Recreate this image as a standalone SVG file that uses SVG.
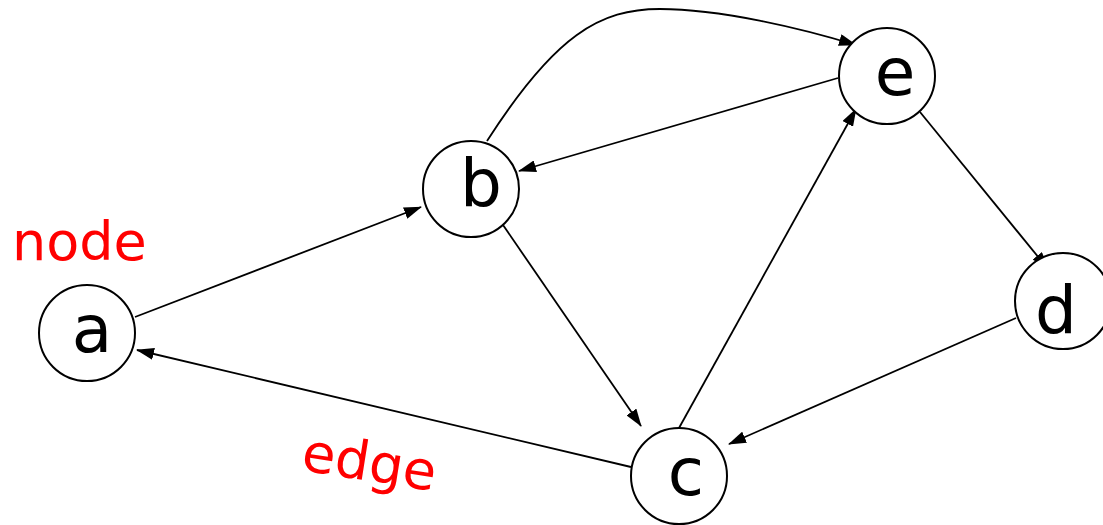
<svg xmlns="http://www.w3.org/2000/svg" width="1103" height="525" viewBox="0 0 1103 525">
<style>
.node{fill:#fff;stroke:#000;stroke-width:2}
.lbl{font-family:"Comic Sans MS","DejaVu Sans",sans-serif;font-size:66px;fill:#000;text-anchor:middle}
.ann{font-family:"Comic Sans MS","DejaVu Sans",sans-serif;font-size:54px;fill:#f00}
.edge{fill:none;stroke:#000;stroke-width:1.8;marker-end:url(#arr)}
</style>
<defs>
<marker id="arr" viewBox="0 0 18 12" refX="17" refY="6" markerWidth="18" markerHeight="12" markerUnits="userSpaceOnUse" orient="auto">
<path d="M0,0 L18,6 L0,12 Z" fill="#000"/>
</marker>
</defs>
<rect width="1103" height="525" fill="#fff"/>
<g id="connectors">
<path class="edge" d="M135,317 L421,207"/>
<path class="edge" d="M503,225 L641,426"/>
<path class="edge" d="M631,467 L137,350"/>
<path class="edge" d="M679,428 L856,109"/>
<path class="edge" d="M838,78 L519,171"/>
<path class="edge" d="M487,141 C555,35 600,9 660,9 C720,9 800,28 856,45"/>
<path class="edge" d="M920,112 L1048,269"/>
<path class="edge" d="M1016,318 L729,444"/>
</g>
<g id="node-a"><circle class="node" cx="87" cy="333" r="48"/><text class="lbl" x="92" y="352">a</text></g>
<g id="node-b"><circle class="node" cx="471" cy="189" r="48"/><text class="lbl" x="481" y="206">b</text></g>
<g id="node-e"><circle class="node" cx="887" cy="76" r="48"/><text class="lbl" x="895" y="95">e</text></g>
<g id="node-d"><circle class="node" cx="1063" cy="301" r="48"/><text class="lbl" x="1056" y="333">d</text></g>
<g id="node-c"><circle class="node" cx="679" cy="476" r="48"/><text class="lbl" x="686" y="495">c</text></g>
<g id="annotations">
<text class="ann" x="12" y="260">node</text>
<text class="ann" x="300" y="470" transform="rotate(9 300 470)">edge</text>
</g>
</svg>
